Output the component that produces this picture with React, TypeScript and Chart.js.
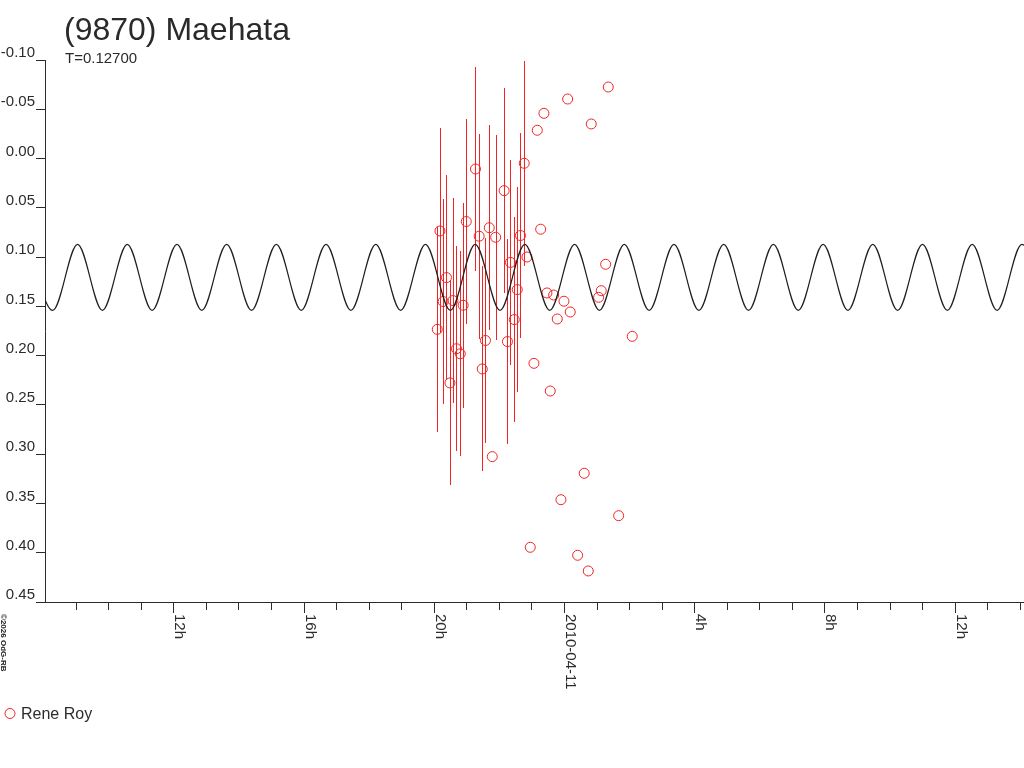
import { useEffect, useRef } from "react";
import { Chart, registerables, type Plugin } from "chart.js";

Chart.register(...registerables);

const FONT = "'Liberation Sans', Arial, sans-serif";
const RED = "#f02424";
const INK = "#2b2b2b";

// time axis in hours counted from 2010-04-10 00:00
const X_MIN = 8.06;
const X_MAX = 38.13;

const Y_MIN = -0.1;
const Y_MAX = 0.45;
const Y_STEP = 0.05;

const xLabelHours = [12, 16, 20, 24, 28, 32, 36];
const xLabelTexts = ["12h", "16h", "20h", "2010-04-11", "4h", "8h", "12h"];

// Rene Roy observations
const obsHours = [
  20.108, 20.191, 20.289, 20.391, 20.498, 20.59, 20.698, 20.815, 20.904, 20.999,
  21.282, 21.395, 21.49, 21.589, 21.705, 21.797, 21.902, 22.163, 22.264, 22.356,
  22.473, 22.565, 22.664, 22.78, 22.863, 22.965, 23.078, 23.18, 23.284, 23.385,
  23.477, 23.579, 23.683, 23.794, 23.907, 24.0, 24.113, 24.193, 24.42, 24.623,
  24.746, 24.838, 25.065, 25.145, 25.28, 25.36, 25.68, 26.097,
];
const obsMags = [
  0.1733, 0.0735, 0.1451, 0.1208, 0.2277, 0.1441, 0.193, 0.1981, 0.1489, 0.0639,
  0.0106, 0.0788, 0.2135, 0.1846, 0.0702, 0.3025, 0.0799, 0.0326, 0.1857, 0.1054,
  0.1634, 0.133, 0.0781, 0.0048, 0.0999, 0.3945, 0.2078, -0.0287, 0.0717, -0.0459,
  0.1364, 0.2359, 0.1385, 0.1628, 0.3462, 0.1448, -0.0604, 0.1557, 0.4026, 0.3194,
  0.4185, -0.0351, 0.1408, 0.1341, 0.1073, -0.0726, 0.3624, 0.1804,
];
const obsErrors = [
  0.104, 0.104, 0.104, 0.104, 0.104, 0.104, 0.104, 0.104, 0.104, 0.104,
  0.104, 0.104, 0.104, 0.104, 0.104, 0, 0.104, 0.104, 0.104, 0.104,
  0.104, 0.104, 0.104, 0.104, 0, 0, 0, 0, 0, 0,
  0, 0, 0, 0, 0, 0, 0, 0, 0, 0,
  0, 0, 0, 0, 0, 0, 0, 0,
];

// extremes of the fitted light curve (P = 0.12700 d)
const modelHours = [
  7.533, 8.297, 9.06, 9.823, 10.587, 11.35, 12.113, 12.876, 13.64, 14.403,
  15.166, 15.93, 16.693, 17.456, 18.22, 18.983, 19.746, 20.51, 21.273, 22.036,
  22.799, 23.563, 24.326, 25.089, 25.853, 26.616, 27.379, 28.143, 28.906, 29.669,
  30.432, 31.196, 31.959, 32.722, 33.486, 34.249, 35.012, 35.776, 36.539, 37.302,
  38.065, 38.829,
];
const modelMags = [
  0.087, 0.154, 0.087, 0.154, 0.087, 0.154, 0.087, 0.154, 0.087, 0.154,
  0.087, 0.154, 0.087, 0.154, 0.087, 0.154, 0.087, 0.154, 0.087, 0.154,
  0.087, 0.154, 0.087, 0.154, 0.087, 0.154, 0.087, 0.154, 0.087, 0.154,
  0.087, 0.154, 0.087, 0.154, 0.087, 0.154, 0.087, 0.154, 0.087, 0.154,
  0.087, 0.154,
];

const decorations: Plugin<"scatter"> = {
  id: "decorations",
  beforeDatasetsDraw(chart) {
    const { ctx } = chart;
    const x = chart.scales.x;
    const y = chart.scales.y;
    ctx.save();
    ctx.fillStyle = RED;
    obsHours.forEach((h, i) => {
      const err = obsErrors[i];
      if (!err) return;
      const px = Math.round(x.getPixelForValue(h));
      const top = Math.round(y.getPixelForValue(obsMags[i] - err));
      const bottom = Math.round(y.getPixelForValue(obsMags[i] + err));
      ctx.fillRect(px, top, 1, bottom - top);
    });
    ctx.restore();
  },
  afterDraw(chart) {
    const { ctx, chartArea } = chart;
    const x = chart.scales.x;
    const base = Math.round(chartArea.bottom);
    ctx.save();

    // hour ticks, longer on the labelled ones
    ctx.fillStyle = INK;
    x.ticks.forEach((t) => {
      if (!Number.isInteger(t.value)) return;
      const major = xLabelHours.includes(t.value);
      const px = Math.round(x.getPixelForValue(t.value));
      ctx.fillRect(px, base, 1, major ? 11 : 8);
    });

    // rotated tick labels, reading downwards
    ctx.font = `15px ${FONT}`;
    ctx.textAlign = "left";
    ctx.textBaseline = "alphabetic";
    xLabelHours.forEach((h, i) => {
      const px = x.getPixelForValue(h);
      ctx.save();
      ctx.translate(px + 2, base + 12);
      ctx.rotate(Math.PI / 2);
      ctx.fillText(xLabelTexts[i], 0, 0);
      ctx.restore();
    });

    // title
    ctx.fillStyle = "#2a2a2a";
    ctx.font = `32px ${FONT}`;
    ctx.fillText("(9870) Maehata", 64, 40);
    ctx.font = `15px ${FONT}`;
    ctx.fillText("T=0.12700", 65, 63);

    // credit
    ctx.save();
    ctx.translate(1, 614);
    ctx.rotate(Math.PI / 2);
    ctx.font = `bold 8px ${FONT}`;
    ctx.fillStyle = "#222";
    ctx.fillText("©2026 OdG-RB", 0, 0);
    ctx.restore();

    // legend
    ctx.strokeStyle = RED;
    ctx.lineWidth = 1;
    ctx.beginPath();
    ctx.arc(10, 713.5, 5, 0, Math.PI * 2);
    ctx.stroke();
    ctx.fillStyle = INK;
    ctx.font = `16px ${FONT}`;
    ctx.fillText("Rene Roy", 21, 719);

    ctx.restore();
  },
};

export default function App() {
  const canvasRef = useRef<HTMLCanvasElement>(null);

  useEffect(() => {
    if (!canvasRef.current) return;

    const chart = new Chart(canvasRef.current, {
      type: "scatter",
      data: {
        datasets: [
          {
            type: "line",
            label: "model",
            data: modelHours.map((h, i) => ({ x: h, y: modelMags[i] })),
            borderColor: "#1e1e1e",
            borderWidth: 1.2,
            pointRadius: 0,
            cubicInterpolationMode: "monotone",
            fill: false,
          },
          {
            label: "Rene Roy",
            data: obsHours.map((h, i) => ({ x: h, y: obsMags[i] })),
            pointStyle: "circle",
            pointRadius: 5,
            borderColor: RED,
            backgroundColor: "rgba(0,0,0,0)",
            borderWidth: 1,
          },
        ],
      },
      options: {
        animation: false,
        responsive: false,
        events: [],
        layout: {
          autoPadding: false,
          padding: { top: 60, left: 0, right: 0, bottom: 0 },
        },
        plugins: {
          legend: { display: false },
          tooltip: { enabled: false },
        },
        scales: {
          x: {
            type: "linear",
            min: X_MIN,
            max: X_MAX,
            ticks: { display: false, stepSize: 1, includeBounds: false },
            grid: { display: false },
            border: { display: true, color: INK, width: 1 },
            afterFit: (s) => {
              s.height = 166;
              s.paddingLeft = 0;
              s.paddingRight = 0;
            },
          },
          y: {
            type: "linear",
            reverse: true,
            min: Y_MIN,
            max: Y_MAX,
            ticks: {
              stepSize: Y_STEP,
              padding: 1,
              labelOffset: -7,
              color: INK,
              font: { family: FONT, size: 15 },
              callback: (v) => {
                const n = Number(v);
                return (Math.abs(n) < 1e-9 ? 0 : n).toFixed(2);
              },
            },
            grid: {
              drawOnChartArea: false,
              drawTicks: true,
              tickLength: 9,
              color: INK,
            },
            border: { display: true, color: INK, width: 1 },
            afterFit: (s) => {
              s.width = 45;
              s.paddingTop = 0;
              s.paddingBottom = 0;
            },
          },
        },
      },
      plugins: [decorations],
    });

    return () => chart.destroy();
  }, []);

  return (
    <div
      style={{
        position: "fixed",
        left: 0,
        top: 0,
        width: 1024,
        height: 768,
        background: "#fff",
      }}
    >
      <canvas ref={canvasRef} width={1024} height={768} />
    </div>
  );
}
